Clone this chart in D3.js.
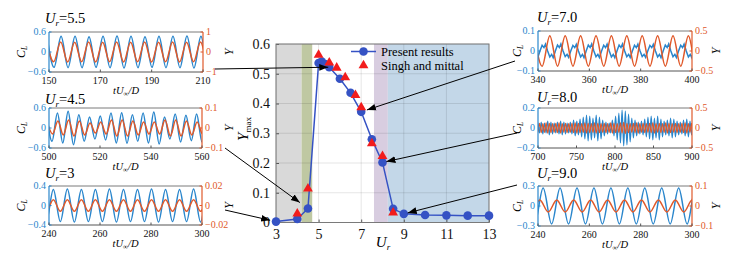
<!DOCTYPE html>
<html><head><meta charset="utf-8">
<script src="https://cdn.jsdelivr.net/npm/d3@7"></script>
<style>
body{margin:0;background:#fff}
svg{display:block}
</style>
</head><body>
<svg id="c" width="739" height="256"></svg>
<script>
// ---------------- main chart data ----------------
const urPresent   = [3, 4, 4.5, 5, 5.15, 5.3, 5.5, 6, 6.5, 7, 7.5, 8, 8.5, 9, 10, 11, 12, 13];
const ymaxPresent = [0.003, 0.012, 0.047, 0.536, 0.541, 0.533, 0.522, 0.483, 0.436, 0.372, 0.28, 0.202, 0.046, 0.029, 0.025, 0.024, 0.023, 0.023];
const urSingh     = [4, 4.5, 5, 5.5, 5.85, 6.25, 6.73, 7, 7.5, 8, 8.5];
const ymaxSingh   = [0.03, 0.114, 0.563, 0.537, 0.52, 0.488, 0.428, 0.387, 0.266, 0.223, 0.033];
const xTicksMain  = [3, 5, 7, 9, 11, 13];
const yTicksMain  = [0, 0.1, 0.2, 0.3, 0.4, 0.5, 0.6];
const regionFrom  = [3, 4.2, 7.6, 8.25];
const regionTo    = [4.2, 4.7, 8.25, 13];
const legendNames = ["Present results", "Singh and mittal"];
const arrowUr     = [5.5, 4.5, 3, 7, 8, 9];

// ---------------- inset data ----------------
const insetUr     = ["5.5", "4.5", "3", "7.0", "8.0", "9.0"];
const insetTRange = [[150, 210], [500, 560], [240, 300], [340, 400], [700, 900], [240, 300]];
const insetTTicks = [[150, 170, 190, 210], [500, 520, 540, 560], [240, 260, 280, 300], [340, 360, 380, 400], [700, 750, 800, 850, 900], [240, 260, 280, 300]];
const insetClLim  = [0.6, 0.6, 0.4, 0.1, 0.2, 0.3];
const insetYLim   = [1, 0.1, 0.02, 0.5, 0.5, 0.1];

// C_L : time of first crest, period, crest amplitude per cycle
const clStart  = [149.25, 499.1, 236.2, 338.6, 695.8, 235.4];
const clPeriod = [5.45, 4.2, 5.5, 6.0, 4.2, 6.6];
const clAmps = [
  [0.46, 0.47, 0.47, 0.46, 0.47, 0.48, 0.47, 0.46, 0.47, 0.47, 0.48, 0.47, 0.47],
  [0.40, 0.45, 0.50, 0.40, 0.33, 0.36, 0.45, 0.46, 0.40, 0.45, 0.48, 0.33, 0.42, 0.38, 0.42, 0.44],
  [0.33, 0.33, 0.34, 0.33, 0.33, 0.34, 0.33, 0.33, 0.34, 0.33, 0.33, 0.34, 0.33],
  [0.034, 0.035, 0.033, 0.035, 0.034, 0.035, 0.034, 0.033, 0.035, 0.034, 0.035, 0.034],
  [0.05, 0.05, 0.06, 0.05, 0.07, 0.06, 0.05, 0.06, 0.07, 0.06, 0.05, 0.06, 0.08, 0.07, 0.09,
   0.11, 0.13, 0.12, 0.10, 0.13, 0.11, 0.08, 0.06, 0.05, 0.08, 0.12, 0.15, 0.18, 0.17, 0.14,
   0.10, 0.08, 0.06, 0.07, 0.09, 0.11, 0.12, 0.10, 0.12, 0.09, 0.07, 0.08, 0.10, 0.09, 0.07,
   0.06, 0.08, 0.09, 0.07, 0.08],
  [0.27, 0.27, 0.27, 0.27, 0.27, 0.27, 0.27, 0.27, 0.27, 0.27, 0.27]
];
// C_L shape over one cycle at Ur=7.0 (phase fraction, value relative to crest amplitude)
const clShape7 = [[0, -0.85], [0.12, -0.5], [0.22, -0.95], [0.36, 0], [0.5, 0.85], [0.62, 0.5], [0.72, 1.0], [0.86, 0]];

// Y : time of first crest, period, crest amplitude per cycle
const yStart  = [149.1, 499.3, 236.2, 338.6, 697.9, 234.1];
const yPeriod = [5.45, 4.2, 5.5, 6.0, 4.2, 6.6];
const yAmps = [
  [0.49, 0.5, 0.49, 0.5, 0.49, 0.5, 0.49, 0.5, 0.49, 0.5, 0.49, 0.5, 0.49],
  [0.03, 0.035, 0.04, 0.035, 0.025, 0.03, 0.04, 0.04, 0.035, 0.03, 0.03, 0.04, 0.04, 0.035, 0.03, 0.035],
  [0.006, 0.006, 0.006, 0.006, 0.006, 0.006, 0.006, 0.006, 0.006, 0.006, 0.006, 0.006, 0.006],
  [0.38, 0.38, 0.38, 0.38, 0.38, 0.38, 0.38, 0.38, 0.38, 0.38, 0.38, 0.38],
  [0.11, 0.12, 0.11, 0.13, 0.12, 0.11, 0.12, 0.13, 0.11, 0.12, 0.11, 0.12, 0.13, 0.12, 0.11,
   0.13, 0.12, 0.11, 0.13, 0.12, 0.11, 0.12, 0.11, 0.13, 0.12, 0.11, 0.13, 0.14, 0.12, 0.11,
   0.12, 0.13, 0.11, 0.12, 0.11, 0.12, 0.13, 0.11, 0.12, 0.11, 0.13, 0.12, 0.11, 0.12, 0.11,
   0.12, 0.13, 0.11, 0.12, 0.11],
  [0.03, 0.03, 0.03, 0.03, 0.03, 0.03, 0.03, 0.03, 0.03, 0.03, 0.03]
];

// ---------------- layout ----------------
const svg = d3.select("#c");
const FONT = "Liberation Serif";
const BLUE = "#3552c4", RED = "#f21c1c";
const CLC = "#2a86cc", YC = "#e0592a";
const M = {x0: 276, x1: 489, y0: 44, y1: 222.5};
const x = d3.scaleLinear([3, 13], [M.x0, M.x1]);
const y = d3.scaleLinear([0, 0.6], [M.y1, M.y0]);
const regionColors = ["#d9d9d9", "#bfc8a2", "#d8cde0", "#c3d7e8"];

const defs = svg.append("defs");
defs.append("marker").attr("id", "ah").attr("viewBox", "0 0 10 10")
  .attr("refX", 10).attr("refY", 5).attr("markerWidth", 9).attr("markerHeight", 9)
  .attr("markerUnits", "userSpaceOnUse").attr("orient", "auto")
  .append("path").attr("d", "M0,1.2L10,5L0,8.8z").attr("fill", "#000");

// regions
const main = svg.append("g");
main.selectAll("rect.reg").data(regionFrom).join("rect").attr("class", "reg")
  .attr("x", d => x(d)).attr("y", M.y0)
  .attr("width", (d, i) => x(regionTo[i]) - x(d)).attr("height", M.y1 - M.y0)
  .attr("fill", (d, i) => regionColors[i]);

// grid
main.selectAll("line.gx").data(xTicksMain).join("line").attr("class", "gx")
  .attr("x1", d => x(d)).attr("x2", d => x(d)).attr("y1", M.y0).attr("y2", M.y1)
  .attr("stroke", "#000").attr("stroke-opacity", 0.1);
main.selectAll("line.gy").data(yTicksMain).join("line").attr("class", "gy")
  .attr("y1", d => y(d)).attr("y2", d => y(d)).attr("x1", M.x0).attr("x2", M.x1)
  .attr("stroke", "#000").attr("stroke-opacity", 0.1);

// axes
const ax = main.append("g").attr("transform", `translate(0,${M.y1})`)
  .call(d3.axisBottom(x).tickValues(xTicksMain).tickSize(-3).tickPadding(7).tickFormat(d3.format("")));
const ay = main.append("g").attr("transform", `translate(${M.x0},0)`)
  .call(d3.axisLeft(y).tickValues(yTicksMain).tickSize(-3).tickPadding(6).tickFormat(d => d === 0 ? "0" : d3.format(".1f")(d)));
[ax, ay].forEach(g => {
  g.select(".domain").remove();
  g.selectAll("line").attr("stroke", "#555");
  g.selectAll("text").attr("font-size", 14).attr("fill", "#111");
});
main.append("rect").attr("x", M.x0).attr("y", M.y0).attr("width", M.x1 - M.x0).attr("height", M.y1 - M.y0)
  .attr("fill", "none").attr("stroke", "#7a7a7a").attr("stroke-width", 1);

// labels
const yl = main.append("text").attr("transform", "translate(248,129) rotate(-90)")
  .attr("text-anchor", "middle").attr("font-size", 15);
yl.append("tspan").attr("font-style", "italic").text("Y");
yl.append("tspan").attr("font-size", 9).attr("dy", 3).text("max");
const xl = main.append("text").attr("x", 383).attr("y", 247).attr("text-anchor", "middle")
  .attr("font-size", 15).attr("font-style", "italic");
xl.append("tspan").text("U");
xl.append("tspan").attr("font-size", 9).attr("dy", 3).text("r");

// series
const pres = urPresent.map((u, i) => [u, ymaxPresent[i]]);
const sing = urSingh.map((u, i) => [u, ymaxSingh[i]]);
main.append("path").datum(pres)
  .attr("d", d3.line().x(d => x(d[0])).y(d => y(d[1])))
  .attr("fill", "none").attr("stroke", BLUE).attr("stroke-width", 1.5);
main.selectAll("circle.p").data(pres).join("circle").attr("class", "p")
  .attr("cx", d => x(d[0])).attr("cy", d => y(d[1])).attr("r", 4.3).attr("fill", BLUE);
const tri = d3.symbol().type(d3.symbolTriangle).size(42);
main.selectAll("path.s").data(sing).join("path").attr("class", "s")
  .attr("transform", d => `translate(${x(d[0])},${y(d[1])})`).attr("d", tri).attr("fill", RED);

// legend
const lg = main.append("g");
lg.append("line").attr("x1", 351).attr("x2", 376).attr("y1", 51.5).attr("y2", 51.5).attr("stroke", BLUE).attr("stroke-width", 1.5);
lg.append("circle").attr("cx", 363.5).attr("cy", 51.5).attr("r", 4.3).attr("fill", BLUE);
lg.append("path").attr("transform", "translate(363.5,65.5)").attr("d", tri).attr("fill", RED);
lg.selectAll("text").data(legendNames).join("text")
  .attr("x", 381).attr("y", (d, i) => 55.5 + i * 14)
  .attr("font-size", 12.5).text(d => d);

// ---------------- insets ----------------
const boxes = [
  {x0: 49, x1: 203, y0: 32, y1: 72},
  {x0: 49, x1: 202, y0: 108, y1: 148},
  {x0: 49, x1: 202, y0: 186, y1: 225},
  {x0: 538, x1: 692, y0: 31, y1: 71},
  {x0: 538, x1: 692, y0: 108, y1: 148},
  {x0: 538, x1: 692, y0: 186, y1: 226}
];
const titleBase = [23, 104, 178, 22, 102, 178];
const titleX = [45, 45, 45, 537, 537, 537];
const clLabelX = [21, 21, 21, 517, 517, 517];
const yLabelX = [229, 229, 229, 716, 716, 716];
const fmt = d => d === 0 ? "0" : d3.format("")(d);

function wavePoints(t0, P, amps) {
  const pts = [];
  amps.forEach((a, k) => {
    pts.push([t0 + k * P, a]);
    pts.push([t0 + (k + 0.5) * P, -a]);
  });
  return pts;
}
function shapePoints(t0, P, amps, shape) {
  const pts = [];
  amps.forEach((a, k) => shape.forEach(s => pts.push([t0 + (k + s[0]) * P, a * s[1]])));
  return pts;
}

boxes.forEach((b, i) => {
  const g = svg.append("g");
  const xs = d3.scaleLinear(insetTRange[i], [b.x0, b.x1]);
  const ysL = d3.scaleLinear([-insetClLim[i], insetClLim[i]], [b.y1, b.y0]);
  const ysR = d3.scaleLinear([-insetYLim[i], insetYLim[i]], [b.y1, b.y0]);
  defs.append("clipPath").attr("id", "cp" + i).append("rect")
    .attr("x", b.x0).attr("y", b.y0).attr("width", b.x1 - b.x0).attr("height", b.y1 - b.y0);
  const plot = g.append("g").attr("clip-path", `url(#cp${i})`);
  const clPts = i === 3 ? shapePoints(clStart[i], clPeriod[i], clAmps[i], clShape7)
                        : wavePoints(clStart[i], clPeriod[i], clAmps[i]);
  const yPts = wavePoints(yStart[i], yPeriod[i], yAmps[i]);
  plot.append("path").datum(clPts)
    .attr("d", d3.line().x(d => xs(d[0])).y(d => ysL(d[1])).curve(i === 3 ? d3.curveLinear : d3.curveMonotoneX))
    .attr("fill", "none").attr("stroke", CLC).attr("stroke-width", i === 4 ? 1.2 : 1.5);
  plot.append("path").datum(yPts)
    .attr("d", d3.line().x(d => xs(d[0])).y(d => ysR(d[1])).curve(d3.curveMonotoneX))
    .attr("fill", "none").attr("stroke", YC).attr("stroke-width", i === 4 ? 1.1 : 1.5);

  // frame
  g.append("line").attr("x1", b.x0).attr("x2", b.x1).attr("y1", b.y0).attr("y2", b.y0).attr("stroke", "#7a7a7a");
  g.append("line").attr("x1", b.x0).attr("x2", b.x1).attr("y1", b.y1).attr("y2", b.y1).attr("stroke", "#555");
  g.append("line").attr("x1", b.x0).attr("x2", b.x0).attr("y1", b.y0).attr("y2", b.y1).attr("stroke", CLC).attr("stroke-width", 1.2);
  g.append("line").attr("x1", b.x1).attr("x2", b.x1).attr("y1", b.y0).attr("y2", b.y1).attr("stroke", YC).attr("stroke-width", 1.2);

  // ticks
  const lt = [-insetClLim[i], 0, insetClLim[i]];
  const rt = [-insetYLim[i], 0, insetYLim[i]];
  g.selectAll("line.lt").data(lt).join("line").attr("x1", b.x0).attr("x2", b.x0 + 2.5)
    .attr("y1", d => ysL(d)).attr("y2", d => ysL(d)).attr("stroke", CLC);
  g.selectAll("line.rt").data(rt).join("line").attr("x1", b.x1).attr("x2", b.x1 - 2.5)
    .attr("y1", d => ysR(d)).attr("y2", d => ysR(d)).attr("stroke", YC);
  g.selectAll("line.bt").data(insetTTicks[i]).join("line").attr("y1", b.y1).attr("y2", b.y1 - 2.5)
    .attr("x1", d => xs(d)).attr("x2", d => xs(d)).attr("stroke", "#555");
  g.selectAll("text.lt").data(lt).join("text").attr("class", "lt")
    .attr("x", b.x0 - 3).attr("y", d => ysL(d) + 3.3).attr("text-anchor", "end")
    .attr("font-size", 10).attr("fill", CLC).text(fmt);
  g.selectAll("text.rt").data(rt).join("text").attr("class", "rt")
    .attr("x", b.x1 + 3).attr("y", d => ysR(d) + 3.3).attr("text-anchor", "start")
    .attr("font-size", 10).attr("fill", YC).text(fmt);
  g.selectAll("text.bt").data(insetTTicks[i]).join("text").attr("class", "bt")
    .attr("x", d => xs(d)).attr("y", b.y1 + 11.5).attr("text-anchor", "middle")
    .attr("font-size", 10).attr("fill", "#111").text(fmt);

  // title
  const t = g.append("text").attr("x", titleX[i]).attr("y", titleBase[i]).attr("font-size", 14.5);
  t.append("tspan").attr("font-style", "italic").text("U");
  t.append("tspan").attr("font-style", "italic").attr("font-size", 9).attr("dy", 3).text("r");
  t.append("tspan").attr("dy", -3).text("=" + insetUr[i]);

  // axis labels
  const cl = g.append("text").attr("transform", `translate(${clLabelX[i] + 4},${(b.y0 + b.y1) / 2}) rotate(-90)`)
    .attr("text-anchor", "middle").attr("font-size", 12).attr("font-style", "italic");
  cl.append("tspan").text("C");
  cl.append("tspan").attr("font-size", 7.5).attr("dy", 2).text("L");
  g.append("text").attr("transform", `translate(${yLabelX[i] + 4},${(b.y0 + b.y1) / 2}) rotate(-90)`)
    .attr("text-anchor", "middle").attr("font-size", 12).attr("font-style", "italic").text("Y");
  const xlab = g.append("text").attr("x", (b.x0 + b.x1) / 2).attr("y", b.y1 + 21.5)
    .attr("text-anchor", "middle").attr("font-size", 10.5).attr("font-style", "italic");
  xlab.append("tspan").text("tU");
  xlab.append("tspan").attr("font-size", 7).attr("dy", 2).text("∞");
  xlab.append("tspan").attr("dy", -2).text("/D");
});

// ---------------- arrows ----------------
const arrowStart = [[215, 69], [225, 148], [225, 210], [515, 61], [517, 133], [517, 185]];
const arrowGap = [1, 10, 6, 6, 4, 4];
arrowUr.forEach((u, i) => {
  const idx = urPresent.indexOf(u);
  const px = x(u), py = y(ymaxPresent[idx]);
  const [sx, sy] = arrowStart[i];
  const dx = sx - px, dy = sy - py, L = Math.hypot(dx, dy);
  const tx = px + dx / L * arrowGap[i], ty = py + dy / L * arrowGap[i];
  svg.append("line").attr("x1", sx).attr("y1", sy).attr("x2", tx).attr("y2", ty)
    .attr("stroke", "#000").attr("stroke-width", 1).attr("marker-end", "url(#ah)");
});

// one font for every text
svg.selectAll("text").attr("font-family", FONT);
svg.selectAll("g").filter(function() { return this.hasAttribute("font-family"); }).attr("font-family", FONT);
</script>
</body></html>
